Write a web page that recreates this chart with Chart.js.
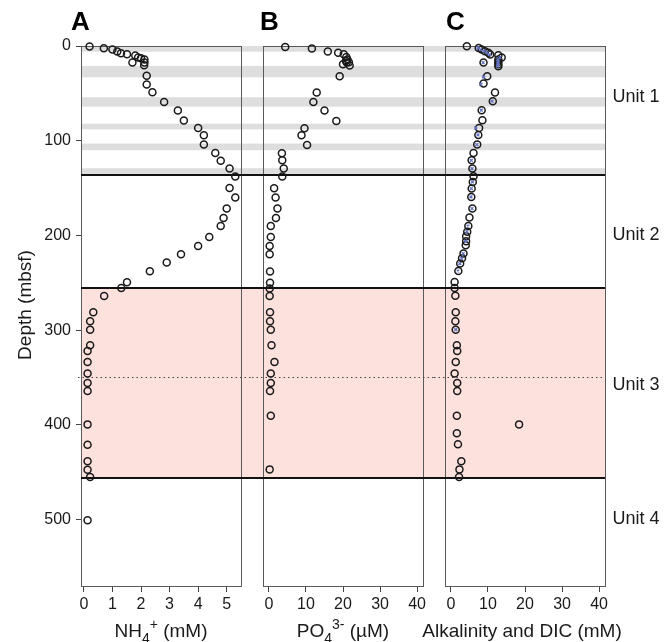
<!DOCTYPE html>
<html>
<head>
<meta charset="utf-8">
<script src="https://cdn.jsdelivr.net/npm/chart.js@4.4.0/dist/chart.umd.min.js"></script>
<style>
  html, body { margin: 0; padding: 0; background: #fff; }
  #figure { position: relative; width: 671px; height: 642px; overflow: hidden; background: #fff; }
  #figure canvas { position: absolute; top: 0; }
</style>
</head>
<body>
<div id="figure">
  <canvas id="panelA" width="252" height="642" style="left:0px"></canvas>
  <canvas id="panelB" width="182" height="642" style="left:252px"></canvas>
  <canvas id="panelC" width="257" height="642" style="left:414px"></canvas>
</div>
<script>
// Porewater profiles vs depth (mbsf)

// NH4+ (mM)
const nh4Depth = [0.5, 2.3, 3.7, 5.8, 7.6, 8.7, 10, 12.2, 12.9, 14.3, 17.5, 17.5, 20.3, 31.5, 40.7, 48.8,
  59, 68, 78.7, 86.5, 94.2, 104, 112.9, 121, 129.4, 137.8, 149.8, 160, 171.6, 181.5, 190, 201.6, 211,
  219.9, 228.6, 237.8, 249.4, 255.4, 263.9, 281, 290.6, 299.4, 316, 322, 333.6, 345.8, 355.7, 364.2,
  399.4, 420.8, 438.4, 447.2, 455, 500.7];
const nh4Conc = [0.2, 0.7, 1.0, 1.17, 1.3, 1.51, 1.8, 1.9, 2.0, 2.12, 1.7, 2.12, 2.11, 2.2, 2.2, 2.4,
  2.81, 3.29, 3.5, 4.0, 4.2, 4.2, 4.6, 4.79, 5.1, 5.3, 5.1, 5.3, 5.0, 4.89, 4.79, 4.39, 4.0,
  3.4, 2.9, 2.31, 1.51, 1.31, 0.71, 0.33, 0.22, 0.22, 0.22, 0.13, 0.13, 0.13, 0.13, 0.13,
  0.13, 0.13, 0.13, 0.13, 0.22, 0.13];

// PO4 3- (uM)
const po4Depth = [1, 2.7, 5.8, 7.2, 8.7, 11.5, 14.3, 15.7, 17.1, 17.5, 19.2, 20.6, 31.9, 49.1, 59, 68.1,
  79.1, 86.8, 94.2, 104.4, 113.2, 120.6, 129.4, 137.8, 150.2, 160, 171.6, 181.5, 190, 201.6, 211,
  219.9, 238, 250, 256, 263.9, 281, 290.6, 299.4, 316, 333.6, 345.8, 355.7, 364.2, 390.2, 446.9];
const po4Conc = [4.4, 11.6, 15.9, 18.7, 20.2, 20.9, 21.2, 20.8, 21.6, 21.0, 20.0, 21.8, 19.1, 12.9, 12.0, 15.0,
  18.2, 9.6, 8.8, 10.3, 3.5, 3.6, 4.0, 3.6, 1.4, 1.8, 2.3, 1.9, 0.5, 0.5, 0.2,
  0.2, 0.3, 0.3, 0.2, 0.2, 0.3, 0.3, 0.5, 0.7, 1.5, 0.5, 0.5, 0.3, 0.5, 0.2];

// Alkalinity (mM)
const alkDepth = [0.2, 2, 3.7, 5.5, 7.2, 9, 9.7, 12.2, 14.3, 16.8, 17.5, 19.2, 21.3, 31.9, 39.6, 49.1,
  58.3, 67.8, 78.4, 86.5, 93.9, 104, 112.9, 120.6, 129.4, 137.5, 143.5, 150.5, 159.3, 171.6, 181.1,
  190, 196, 200.8, 206, 210.3, 219.1, 224, 229.7, 237.5, 249.1, 255.4, 263.5, 281, 290.6, 299.4,
  316, 322, 333.6, 345.8, 355.7, 364.2, 390.2, 399.4, 408.8, 420.5, 438.4, 446.9, 455];
const alkConc = [4.3, 7.5, 8.3, 9.2, 10.1, 10.6, 12.8, 13.7, 12.8, 12.8, 8.8, 12.8, 12.8, 9.8, 8.8, 11.9,
  11.3, 8.3, 8.5, 7.6, 7.4, 7.1, 6.1, 5.6, 5.8, 6.1, 5.9, 5.6, 5.5, 5.8, 5.0,
  4.7, 4.4, 4.1, 4.1, 4.0, 3.4, 3.0, 2.5, 2.0, 1.0, 1.0, 1.2, 1.3, 1.2, 1.3,
  1.6, 1.7, 1.3, 1.0, 1.7, 1.7, 1.6, 18.4, 1.6, 1.9, 2.8, 2.3, 2.2];

// DIC (mM)
const dicDepth = [2, 3.7, 5.5, 7.2, 9, 12.2, 14.3, 16.8, 17.5, 19.2, 21.3, 32.6, 40.3, 58.3, 67.8, 86.5,
  93.9, 104, 120.6, 129.4, 143.5, 150.5, 159.3, 171.6, 190, 196, 206, 219.1, 224, 229.7, 237.5, 299.4];
const dicConc = [7.3, 8.0, 9.0, 9.8, 10.4, 13.2, 12.7, 12.7, 8.7, 12.7, 12.6, 8.8, 8.1, 11.1, 8.2, 6.7,
  7.3, 7.0, 5.5, 5.7, 5.8, 5.5, 5.4, 5.7, 4.6, 4.3, 4.0, 3.3, 2.9, 2.4, 1.9, 1.3];

// Axis ticks
const depthTicks = [0, 100, 200, 300, 400, 500];
const nh4Ticks = [0, 1, 2, 3, 4, 5];
const po4Ticks = [0, 10, 20, 30, 40];
const alkTicks = [0, 10, 20, 30, 40];

// Lithostratigraphy
const unitNames = ['Unit 1', 'Unit 2', 'Unit 3', 'Unit 4'];
const unitLabelDepth = [54, 200, 358, 499];
const unitBoundaries = [136, 255, 456];
const subunitBoundary = 349;
const grayBands = [[0, 6], [21, 33], [54, 64], [82, 88], [103, 110], [129, 136]];
const pinkZone = [255, 456];

const FONT = '"Liberation Sans", Arial, Helvetica, sans-serif';
const INK = '#1a1a1a';
const TICK_SIZE = 16;
const TITLE_SIZE = 19;

function toPoints(depths, values) {
  return depths.map((d, i) => ({ x: values[i], y: d }));
}

// Text with subscript / superscript pieces, centred on (cx, cy)
function drawRichText(ctx, parts, cx, cy, size) {
  const small = Math.round(size * 0.72);
  const fontFor = p => (p.shift ? small : size) + 'px ' + FONT;
  let total = 0;
  parts.forEach(p => { ctx.font = fontFor(p); total += ctx.measureText(p.text).width; });
  let x = cx - total / 2;
  const base = cy + size * 0.36;
  ctx.textAlign = 'left';
  ctx.textBaseline = 'alphabetic';
  parts.forEach(p => {
    ctx.font = fontFor(p);
    let dy = 0;
    if (p.shift === 'sub') dy = size * 0.3;
    if (p.shift === 'sup') dy = -size * 0.42;
    ctx.fillText(p.text, x, base + dy);
    x += ctx.measureText(p.text).width;
  });
}

// Bands, unit boundaries, frame and labels around one panel.
// spanLeft / spanRight: 'area' = stop at the plot frame, a number = canvas x.
function makeDecor(decor) {
  const spanOf = (chart) => {
    const area = chart.chartArea;
    const left = decor.spanLeft === 'area' ? area.left : decor.spanLeft;
    const right = decor.spanRight === 'area' ? area.right : chart.width;
    return [left, right];
  };
  return {
    id: 'panelDecor',
    beforeDraw(chart) {
      const { ctx, scales: { y } } = chart;
      const [x0, x1] = spanOf(chart);
      ctx.save();
      ctx.fillStyle = '#dedede';
      grayBands.forEach(([a, b]) => {
        const ya = y.getPixelForValue(a), yb = y.getPixelForValue(b);
        ctx.fillRect(x0, ya, x1 - x0, yb - ya);
      });
      ctx.fillStyle = '#fde1dd';
      const pa = y.getPixelForValue(pinkZone[0]), pb = y.getPixelForValue(pinkZone[1]);
      ctx.fillRect(x0, pa, x1 - x0, pb - pa);
      ctx.restore();
    },
    beforeDatasetsDraw(chart) {
      const { ctx, chartArea: area, scales: { y } } = chart;
      const [x0, x1] = spanOf(chart);
      ctx.save();
      // panel frame
      ctx.strokeStyle = '#5a5a5a';
      ctx.lineWidth = 1;
      ctx.strokeRect(Math.round(area.left) + 0.5, Math.round(area.top) + 0.5,
        Math.round(area.right - area.left), Math.round(area.bottom - area.top));
      // subunit boundary
      const ys = Math.round(y.getPixelForValue(subunitBoundary)) + 0.5;
      ctx.setLineDash([1.5, 3]);
      ctx.strokeStyle = '#444';
      ctx.beginPath();
      ctx.moveTo(decor.spanLeft === 'area' ? x0 - 3 : x0, ys);
      ctx.lineTo(x1, ys);
      ctx.stroke();
      ctx.setLineDash([]);
      // unit boundaries
      ctx.strokeStyle = '#111';
      ctx.lineWidth = 2;
      unitBoundaries.forEach(d => {
        const yy = Math.round(y.getPixelForValue(d));
        ctx.beginPath();
        ctx.moveTo(x0, yy);
        ctx.lineTo(x1, yy);
        ctx.stroke();
      });
      ctx.restore();
    },
    afterDraw(chart) {
      const { ctx, chartArea: area, scales: { y } } = chart;
      ctx.save();
      ctx.fillStyle = '#000';
      ctx.font = 'bold 26px ' + FONT;
      ctx.textAlign = 'left';
      ctx.textBaseline = 'middle';
      ctx.fillText(decor.letter, area.left + decor.letterDx, 23);

      ctx.fillStyle = INK;
      drawRichText(ctx, decor.title, (area.left + area.right) / 2 + (decor.titleDx || 0), 630, TITLE_SIZE);

      if (decor.depthTitle) {
        ctx.save();
        ctx.translate(26, 305);
        ctx.rotate(-Math.PI / 2);
        ctx.font = TITLE_SIZE + 'px ' + FONT;
        ctx.textAlign = 'center';
        ctx.textBaseline = 'middle';
        ctx.fillText('Depth (mbsf)', 0, 0);
        ctx.restore();
      }
      if (decor.units) {
        ctx.font = '18px ' + FONT;
        ctx.textAlign = 'center';
        ctx.textBaseline = 'middle';
        unitNames.forEach((name, i) => {
          ctx.fillText(name, area.right + 31, y.getPixelForValue(unitLabelDepth[i]));
        });
      }
      ctx.restore();
    }
  };
}

function pointSet(data, extra) {
  return Object.assign({
    data: data,
    showLine: false,
    pointStyle: 'circle',
    pointRadius: 3.5,
    pointBorderWidth: 1.5,
    pointBackgroundColor: 'rgba(0,0,0,0)',
    pointBorderColor: INK,
    clip: false
  }, extra || {});
}

function buildPanel(canvasId, panel) {
  const yScale = {
    type: 'linear',
    reverse: true,
    min: 0,
    max: 570,
    display: panel.showDepthAxis,
    afterBuildTicks: scale => { scale.ticks = depthTicks.map(v => ({ value: v })); },
    afterFit: scale => { if (panel.showDepthAxis) scale.width = 81; },
    grid: { drawOnChartArea: false, drawTicks: true, tickLength: 5, color: '#444' },
    border: { display: true, color: '#5a5a5a' },
    ticks: { padding: 5, color: INK, font: { family: FONT, size: TICK_SIZE } }
  };
  const xScale = {
    type: 'linear',
    min: panel.xMin,
    max: panel.xMax,
    afterBuildTicks: scale => { scale.ticks = panel.xTicks.map(v => ({ value: v })); },
    afterFit: scale => { scale.height = 56; },
    grid: { drawOnChartArea: false, drawTicks: true, tickLength: 6, color: '#444' },
    border: { display: true, color: '#5a5a5a' },
    ticks: { padding: 3, color: INK, maxRotation: 0, autoSkip: false, font: { family: FONT, size: TICK_SIZE } }
  };

  return new Chart(document.getElementById(canvasId), {
    type: 'scatter',
    data: { datasets: panel.datasets },
    options: {
      responsive: false,
      animation: false,
      events: [],
      layout: { padding: panel.padding },
      scales: { x: xScale, y: yScale },
      plugins: {
        legend: { display: false },
        tooltip: { enabled: false }
      }
    },
    plugins: [makeDecor(panel.decor)]
  });
}

buildPanel('panelA', {
  showDepthAxis: true,
  xMin: -0.1, xMax: 5.5, xTicks: nh4Ticks,
  padding: { left: 0, right: 11, top: 46, bottom: 0 },
  datasets: [pointSet(toPoints(nh4Depth, nh4Conc))],
  decor: {
    spanLeft: 'area', spanRight: 'edge', letter: 'A', letterDx: -10, depthTitle: true,
    title: [{ text: 'NH' }, { text: '4', shift: 'sub' }, { text: '+', shift: 'sup' }, { text: ' (mM)' }]
  }
});

buildPanel('panelB', {
  showDepthAxis: false,
  xMin: -1.6, xMax: 41.6, xTicks: po4Ticks,
  padding: { left: 11, right: 11, top: 46, bottom: 0 },
  datasets: [pointSet(toPoints(po4Depth, po4Conc))],
  decor: {
    spanLeft: 0, spanRight: 'edge', letter: 'B', letterDx: -3,
    title: [{ text: 'PO' }, { text: '4', shift: 'sub' }, { text: '3-', shift: 'sup' }, { text: ' (\u00b5M)' }]
  }
});

// this canvas starts 20px early so the long axis title has room on the left
buildPanel('panelC', {
  showDepthAxis: false,
  xMin: -1.6, xMax: 41.6, xTicks: alkTicks,
  padding: { left: 31, right: 66, top: 46, bottom: 0 },
  datasets: [
    pointSet(toPoints(dicDepth, dicConc), {
      pointStyle: 'crossRot', pointRadius: 2, pointBorderWidth: 1.3, pointBorderColor: '#6273c2'
    }),
    pointSet(toPoints(alkDepth, alkConc))
  ],
  decor: {
    spanLeft: 20, spanRight: 'area', letter: 'C', letterDx: 1, units: true, titleDx: -3,
    title: [{ text: 'Alkalinity and DIC (mM)' }]
  }
});
</script>
</body>
</html>
